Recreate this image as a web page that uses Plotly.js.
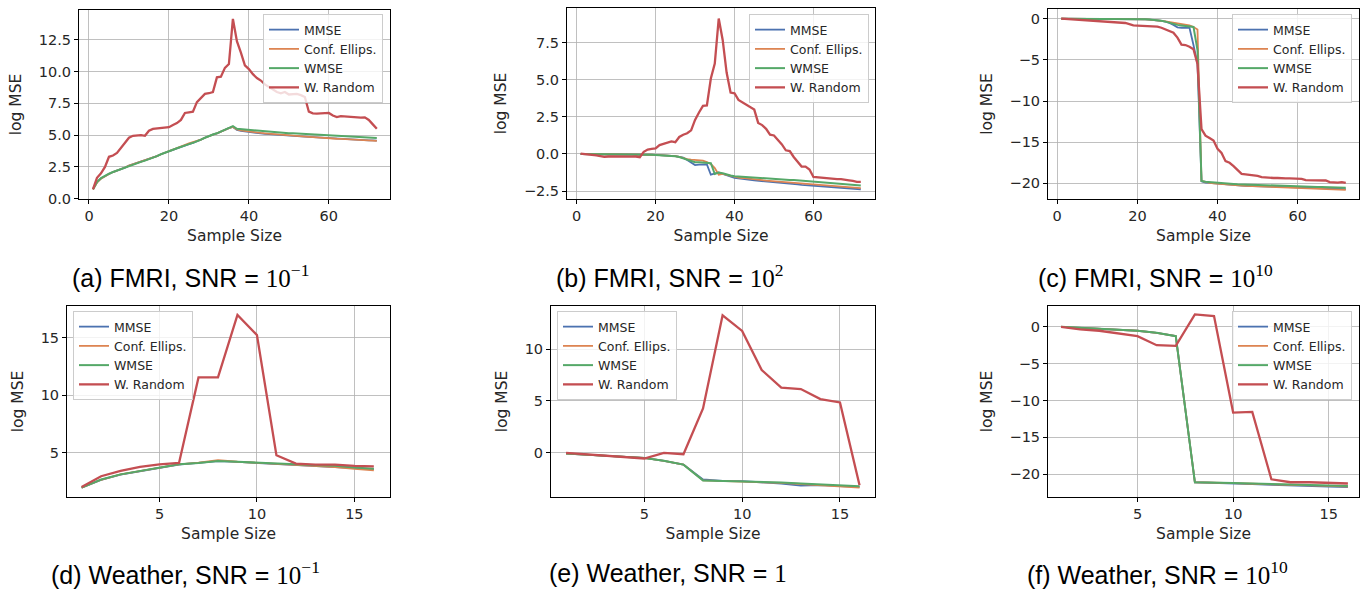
<!DOCTYPE html>
<html>
<head>
<meta charset="utf-8">
<script src="https://cdn.plot.ly/plotly-3.0.1.min.js"></script>
<style>html,body{margin:0;padding:0;background:#fff;} #chart{width:1361px;height:592px;}</style>
</head>
<body>
<div id="chart"></div>
<script>
// ---------------- DATA ----------------
const seriesNames = ["MMSE", "Conf. Ellips.", "WMSE", "W. Random"];

const fmriSizes = [1,2,3,4,5,6,7,8,9,10,11,12,13,14,15,16,17,18,19,20,21,22,23,24,25,26,27,28,29,30,31,32,33,34,35,36,
  37,38,39,40,41,42,43,44,45,46,47,48,49,50,51,52,53,54,55,56,57,58,59,60,61,62,63,64,65,66,67,68,69,70,71,72];
const weatherSizes = [1,2,3,4,5,6,7,8,9,10,11,12,13,14,15,16];

// (a) FMRI, SNR = 1e-1
const fmriLow_MMSE = [0.75,1.3,1.6,1.8,1.95,2.1,2.2,2.35,2.45,2.6,2.7,2.8,2.9,3.0,3.1,3.25,3.35,3.5,3.6,3.75,3.85,3.97,4.1,4.2,4.3,4.4,4.5,4.65,4.8,4.95,5.05,5.15,5.3,5.4,5.55,5.65,
  5.42,5.35,5.30,5.25,5.22,5.18,5.15,5.10,5.08,5.05,5.02,5.00,4.97,4.95,4.93,4.92,4.90,4.88,4.86,4.84,4.80,4.78,4.76,4.74,4.73,4.72,4.70,4.68,4.66,4.65,4.63,4.62,4.61,4.60,4.59,4.58];
const fmriLow_Conf = [0.72,1.28,1.58,1.8,1.95,2.1,2.2,2.34,2.46,2.6,2.7,2.8,2.9,3.0,3.1,3.25,3.35,3.5,3.6,3.75,3.86,3.98,4.12,4.25,4.35,4.45,4.52,4.65,4.8,4.95,5.05,5.15,5.3,5.4,5.55,5.65,
  5.45,5.38,5.33,5.28,5.25,5.22,5.18,5.15,5.12,5.08,5.05,5.02,5.00,4.98,4.95,4.93,4.91,4.89,4.87,4.85,4.82,4.79,4.77,4.75,4.74,4.72,4.71,4.70,4.68,4.66,4.64,4.62,4.61,4.60,4.58,4.56];
const fmriLow_WMSE = [0.75,1.32,1.62,1.82,1.97,2.1,2.22,2.35,2.47,2.6,2.7,2.8,2.9,3.0,3.1,3.25,3.35,3.5,3.6,3.75,3.85,3.97,4.1,4.2,4.3,4.4,4.5,4.65,4.8,4.95,5.05,5.15,5.3,5.42,5.57,5.72,
  5.50,5.47,5.45,5.42,5.40,5.38,5.33,5.30,5.28,5.25,5.22,5.20,5.18,5.16,5.15,5.13,5.12,5.10,5.10,5.08,5.06,5.04,5.02,5.00,4.98,4.96,4.95,4.93,4.92,4.90,4.88,4.86,4.84,4.82,4.80,4.78];
const fmriLow_Random = [0.75,1.65,2.0,2.5,3.3,3.4,3.6,4.0,4.45,4.8,4.95,5.0,5.0,4.95,5.35,5.5,5.52,5.58,5.6,5.63,5.8,5.95,6.2,6.75,6.8,6.85,7.6,7.9,8.25,8.3,8.4,9.55,9.6,10.3,10.6,14.15,
  12.4,11.5,10.5,10.2,9.8,9.5,9.3,9.0,8.8,8.6,8.4,8.3,8.4,8.2,8.2,8.25,8.15,8.0,6.85,6.72,6.7,6.7,6.72,6.75,6.55,6.42,6.5,6.47,6.45,6.42,6.4,6.38,6.4,6.2,5.85,5.5];

// (b) FMRI, SNR = 1e2
const fmriMid_MMSE = [0.0,0.0,0.0,0.0,0.0,0.0,0.0,0.0,0.0,-0.01,-0.01,-0.01,-0.02,-0.02,-0.03,-0.03,-0.04,-0.05,-0.05,-0.06,-0.07,-0.08,-0.1,-0.12,-0.15,-0.2,-0.25,-0.4,-0.6,-0.75,-0.72,-0.7,-0.7,-1.4,-1.35,-1.25,
  -1.35,-1.45,-1.55,-1.62,-1.65,-1.7,-1.72,-1.75,-1.78,-1.8,-1.83,-1.85,-1.88,-1.9,-1.92,-1.95,-1.97,-2.0,-2.02,-2.05,-2.08,-2.1,-2.12,-2.15,-2.17,-2.18,-2.2,-2.22,-2.24,-2.26,-2.28,-2.3,-2.32,-2.34,-2.36,-2.38];
const fmriMid_Conf = [0.0,0.0,0.0,0.0,0.0,0.0,0.0,0.0,0.0,-0.01,-0.01,-0.01,-0.02,-0.02,-0.03,-0.03,-0.04,-0.05,-0.05,-0.06,-0.07,-0.08,-0.1,-0.12,-0.15,-0.2,-0.28,-0.35,-0.38,-0.4,-0.42,-0.45,-0.55,-0.68,-0.95,-1.4,
  -1.35,-1.42,-1.5,-1.55,-1.6,-1.62,-1.66,-1.7,-1.72,-1.75,-1.77,-1.8,-1.82,-1.85,-1.86,-1.88,-1.9,-1.92,-1.95,-1.97,-2.0,-2.02,-2.05,-2.08,-2.1,-2.12,-2.14,-2.15,-2.17,-2.18,-2.2,-2.22,-2.24,-2.26,-2.28,-2.3];
const fmriMid_WMSE = [0.0,0.0,0.0,0.0,0.0,0.0,0.0,0.0,0.0,-0.01,-0.01,-0.01,-0.02,-0.02,-0.03,-0.03,-0.04,-0.05,-0.05,-0.06,-0.07,-0.08,-0.1,-0.12,-0.15,-0.2,-0.3,-0.4,-0.5,-0.55,-0.55,-0.57,-0.6,-0.62,-1.35,-1.25,
  -1.3,-1.4,-1.45,-1.5,-1.52,-1.55,-1.57,-1.6,-1.6,-1.62,-1.65,-1.65,-1.67,-1.7,-1.7,-1.72,-1.73,-1.75,-1.76,-1.78,-1.8,-1.82,-1.84,-1.86,-1.88,-1.9,-1.92,-1.95,-1.97,-2.0,-2.0,-2.02,-2.05,-2.08,-2.1,-2.12];
const fmriMid_Random = [0.02,0.0,-0.03,-0.06,-0.1,-0.15,-0.2,-0.17,-0.18,-0.19,-0.19,-0.2,-0.19,-0.18,-0.17,-0.22,0.15,0.3,0.35,0.38,0.6,0.7,0.75,0.85,0.8,1.15,1.3,1.4,1.6,2.3,2.8,3.25,3.28,5.1,6.1,9.15,
  7.7,5.5,4.15,4.1,3.65,3.5,3.35,3.15,3.0,2.1,1.95,1.7,1.3,1.25,0.95,0.65,0.25,0.2,-0.2,-0.55,-0.85,-0.85,-1.05,-1.55,-1.58,-1.6,-1.62,-1.65,-1.68,-1.7,-1.7,-1.72,-1.78,-1.82,-1.88,-1.88];

// (c) FMRI, SNR = 1e10
const fmriHigh_MMSE = [0.0,0.0,0.0,0.0,0.0,0.0,-0.01,-0.01,-0.01,-0.01,-0.02,-0.02,-0.02,-0.02,-0.03,-0.03,-0.03,-0.04,-0.04,-0.05,-0.06,-0.08,-0.1,-0.13,-0.18,-0.25,-0.35,-0.5,-0.75,-1.05,-1.1,-1.1,-1.1,-3.2,-5.5,-19.75,
  -19.9,-19.95,-20.0,-20.05,-20.1,-20.15,-20.2,-20.22,-20.25,-20.28,-20.3,-20.3,-20.32,-20.33,-20.35,-20.36,-20.38,-20.4,-20.42,-20.43,-20.45,-20.47,-20.48,-20.5,-20.52,-20.53,-20.55,-20.57,-20.58,-20.6,-20.62,-20.63,-20.65,-20.67,-20.68,-20.7];
const fmriHigh_Conf = [0.0,0.0,0.0,0.0,0.0,0.0,-0.01,-0.01,-0.01,-0.01,-0.02,-0.02,-0.02,-0.02,-0.03,-0.03,-0.03,-0.04,-0.04,-0.05,-0.06,-0.08,-0.1,-0.13,-0.18,-0.25,-0.32,-0.4,-0.5,-0.6,-0.65,-0.7,-0.8,-1.0,-1.3,-19.7,
  -19.85,-19.95,-20.0,-20.05,-20.1,-20.13,-20.17,-20.2,-20.23,-20.26,-20.3,-20.32,-20.35,-20.37,-20.4,-20.42,-20.45,-20.47,-20.5,-20.52,-20.55,-20.57,-20.58,-20.6,-20.62,-20.64,-20.66,-20.68,-20.7,-20.71,-20.72,-20.74,-20.75,-20.77,-20.78,-20.8];
const fmriHigh_WMSE = [0.0,0.0,0.0,0.0,0.0,0.0,-0.01,-0.01,-0.01,-0.01,-0.02,-0.02,-0.02,-0.02,-0.03,-0.03,-0.03,-0.04,-0.04,-0.05,-0.06,-0.08,-0.1,-0.13,-0.18,-0.25,-0.35,-0.5,-0.65,-0.75,-0.82,-0.88,-0.95,-1.0,-3.8,-19.7,
  -19.8,-19.85,-19.9,-19.95,-20.0,-20.02,-20.05,-20.07,-20.1,-20.12,-20.15,-20.17,-20.2,-20.2,-20.22,-20.25,-20.27,-20.3,-20.3,-20.32,-20.33,-20.35,-20.37,-20.38,-20.4,-20.4,-20.42,-20.43,-20.45,-20.45,-20.47,-20.48,-20.5,-20.5,-20.52,-20.53];
const fmriHigh_Random = [0.0,-0.03,-0.06,-0.09,-0.12,-0.15,-0.18,-0.21,-0.24,-0.27,-0.3,-0.33,-0.37,-0.4,-0.43,-0.47,-0.52,-0.65,-0.8,-0.83,-0.85,-0.87,-0.9,-0.92,-0.95,-1.1,-1.3,-1.45,-1.7,-2.3,-3.15,-3.2,-3.4,-3.7,-5.5,-13.4,
  -14.2,-14.5,-14.8,-15.8,-16.3,-17.3,-17.5,-17.9,-18.4,-18.85,-18.9,-18.95,-19.0,-19.1,-19.25,-19.3,-19.3,-19.35,-19.35,-19.4,-19.4,-19.4,-19.4,-19.4,-19.45,-19.6,-19.6,-19.65,-19.65,-19.65,-19.65,-19.85,-19.9,-19.9,-19.85,-19.95];

// (d) Weather, SNR = 1e-1
const wLow_MMSE   = [1.95,2.62,3.08,3.38,3.64,3.96,4.1,4.25,4.18,4.08,4.0,3.92,3.8,3.72,3.64,3.55];
const wLow_Conf   = [1.95,2.63,3.1,3.4,3.66,3.98,4.12,4.33,4.2,4.1,4.02,3.95,3.82,3.74,3.58,3.46];
const wLow_WMSE   = [1.95,2.65,3.1,3.4,3.66,3.98,4.1,4.27,4.19,4.1,4.04,3.98,3.9,3.84,3.69,3.6];
const wLow_Random = [2.0,2.94,3.4,3.75,3.98,4.1,11.54,11.54,16.98,15.23,4.77,4.04,3.95,3.95,3.84,3.8];

// (e) Weather, SNR = 1
const wMid_MMSE   = [-0.1,-0.2,-0.32,-0.42,-0.52,-0.8,-1.17,-2.6,-2.75,-2.78,-2.88,-3.0,-3.2,-3.15,-3.25,-3.33];
const wMid_Conf   = [-0.1,-0.2,-0.32,-0.42,-0.52,-0.8,-1.17,-2.7,-2.75,-2.8,-2.87,-2.95,-3.05,-3.15,-3.3,-3.4];
const wMid_WMSE   = [-0.1,-0.2,-0.32,-0.42,-0.52,-0.8,-1.17,-2.7,-2.75,-2.75,-2.85,-2.9,-3.0,-3.1,-3.24,-3.27];
const wMid_Random = [-0.03,-0.16,-0.3,-0.42,-0.58,-0.03,-0.16,4.27,13.3,11.78,8.0,6.28,6.15,5.18,4.85,-3.17];

// (f) Weather, SNR = 1e10
const wHigh_MMSE   = [0.0,-0.14,-0.27,-0.36,-0.54,-0.82,-1.27,-21.1,-21.15,-21.25,-21.35,-21.45,-21.5,-21.58,-21.68,-21.77];
const wHigh_Conf   = [0.0,-0.14,-0.27,-0.36,-0.54,-0.82,-1.27,-21.1,-21.12,-21.22,-21.3,-21.4,-21.45,-21.52,-21.6,-21.68];
const wHigh_WMSE   = [0.0,-0.14,-0.27,-0.36,-0.54,-0.82,-1.27,-21.1,-21.1,-21.2,-21.27,-21.36,-21.4,-21.45,-21.54,-21.6];
const wHigh_Random = [0.0,-0.36,-0.54,-0.9,-1.27,-2.5,-2.58,1.68,1.45,-11.65,-11.56,-20.7,-21.1,-21.1,-21.2,-21.27];

// Captions
const captionPrefix = ["(a) FMRI, SNR = ", "(b) FMRI, SNR = ", "(c) FMRI, SNR = ",
                       "(d) Weather, SNR = ", "(e) Weather, SNR = ", "(f) Weather, SNR = "];
const captionBase = ["10", "10", "10", "10", "1", "10"];
const captionExp  = ["−1", "2", "10", "−1", "", "10"];

// tick values per panel
const yTicks = [[0,2.5,5,7.5,10,12.5],[-2.5,0,2.5,5,7.5],[-20,-15,-10,-5,0],[5,10,15],[0,5,10],[-20,-15,-10,-5,0]];
const yFormats = [".1f", ".1f", "", "", "", ""];
const xTicks = [[0,20,40,60],[0,20,40,60],[0,20,40,60],[5,10,15],[5,10,15],[5,10,15]];

// ---------------- LAYOUT ----------------
const W = 1361, H = 592;
const colors = ["#4C72B0", "#DD8452", "#55A868", "#C44E52"];
const widths = [1.8, 1.8, 2.0, 2.3];
const panels = [
  {x: fmriSizes, ys: [fmriLow_MMSE, fmriLow_Conf, fmriLow_WMSE, fmriLow_Random]},
  {x: fmriSizes, ys: [fmriMid_MMSE, fmriMid_Conf, fmriMid_WMSE, fmriMid_Random]},
  {x: fmriSizes, ys: [fmriHigh_MMSE, fmriHigh_Conf, fmriHigh_WMSE, fmriHigh_Random]},
  {x: weatherSizes, ys: [wLow_MMSE, wLow_Conf, wLow_WMSE, wLow_Random]},
  {x: weatherSizes, ys: [wMid_MMSE, wMid_Conf, wMid_WMSE, wMid_Random]},
  {x: weatherSizes, ys: [wHigh_MMSE, wHigh_Conf, wHigh_WMSE, wHigh_Random]}
];
// pixel boxes [left, right, top, bottom]
const boxes = [[79,390,10,199],[567,875,8,199],[1048,1359,9,199],[67,390,306,497],[551,875,306,497],[1048,1359,306,497]];
const xRanges = [[-2.5,75.3],[-2.45,75.6],[-2.3,75.3],[0.25,16.83],[0.23,16.79],[0.32,16.58]];
const yRanges = [[-0.02,14.85],[-3.04,9.86],[-21.9,1.18],[1.13,17.76],[-4.31,14.2],[-23.1,2.82]];
const legendPos = [[263,14],[749,14],[1232,14],[73,311],[557,311],[1232,311]];
const captionPos = [[190,276],[670,276],[1155,276],[185,573],[668,573],[1157,573]];

const tickFont = {family: "DejaVu Sans", size: 14.5, color: "#262626"};
const titleFont = {family: "DejaVu Sans", size: 15.5, color: "#262626"};
const data = [];
const layout = {
  width: W, height: H,
  margin: {l: 0, r: 0, t: 0, b: 0, pad: 0},
  paper_bgcolor: "#ffffff", plot_bgcolor: "#ffffff",
  font: {family: "DejaVu Sans", color: "#262626"},
  annotations: []
};

panels.forEach((p, i) => {
  const sfx = i === 0 ? "" : String(i + 1);
  const b = boxes[i];
  const legName = "legend" + sfx;
  p.ys.forEach((y, k) => {
    data.push({
      type: "scatter", mode: "lines", x: p.x, y: y, name: seriesNames[k],
      xaxis: "x" + sfx, yaxis: "y" + sfx, legend: legName,
      line: {color: colors[k], width: widths[k]}
    });
  });
  const common = {
    showline: true, mirror: true, linecolor: "#000", linewidth: 1,
    ticks: "outside", ticklen: 4, tickwidth: 1, tickcolor: "#000",
    showgrid: true, gridcolor: "#b0b0b0", gridwidth: 0.8, zeroline: false,
    tickfont: tickFont, automargin: false
  };
  layout["xaxis" + sfx] = Object.assign({}, common, {
    domain: [b[0] / W, b[1] / W], anchor: "y" + sfx, range: xRanges[i],
    tickmode: "array", tickvals: xTicks[i],
    title: {text: "Sample Size", font: titleFont, standoff: 6}
  });
  layout["yaxis" + sfx] = Object.assign({}, common, {
    domain: [1 - b[3] / H, 1 - b[2] / H], anchor: "x" + sfx, range: yRanges[i],
    tickmode: "array", tickvals: yTicks[i], tickformat: yFormats[i],
    title: {text: "log MSE", font: titleFont, standoff: 13}
  });
  layout[legName] = {
    x: legendPos[i][0] / W, y: 1 - legendPos[i][1] / H, xanchor: "left", yanchor: "top",
    bgcolor: "rgba(255,255,255,0.8)", bordercolor: "#cccccc", borderwidth: 1,
    font: {family: "DejaVu Sans", size: 12.5, color: "#262626"}, tracegroupgap: 0
  };
  const exp = captionExp[i] ? "<sup>" + captionExp[i] + "</sup>" : "";
  layout.annotations.push({
    xref: "paper", yref: "paper", x: captionPos[i][0] / W, y: 1 - captionPos[i][1] / H,
    xanchor: "center", yanchor: "middle", showarrow: false, borderpad: 0,
    text: captionPrefix[i] + "<span style=\"font-family:'Liberation Serif'\">" + captionBase[i] + exp + "</span>",
    font: {family: "Liberation Sans", size: 25, color: "#000"}
  });
});

Plotly.newPlot("chart", data, layout, {staticPlot: true});
</script>
</body>
</html>
